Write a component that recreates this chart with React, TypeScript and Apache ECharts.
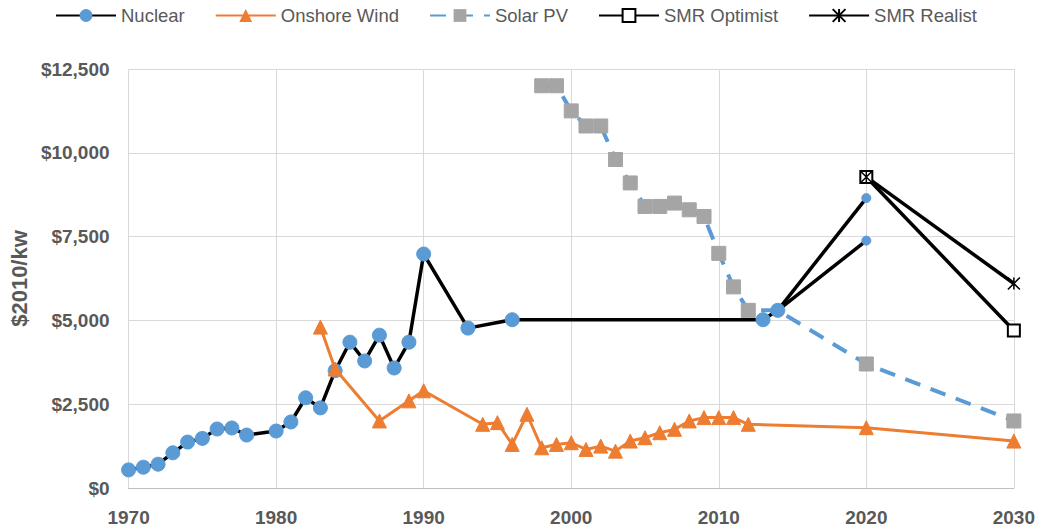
import React, { useEffect, useRef } from "react";
import * as echarts from "echarts";

const nuclearYears = [1970, 1971, 1972, 1973, 1974, 1975, 1976, 1977, 1978, 1980, 1981, 1982, 1983, 1984, 1985, 1986, 1987, 1988, 1989, 1990, 1993, 1996, 2013, 2014];
const nuclearValues = [540, 620, 710, 1050, 1370, 1480, 1760, 1790, 1580, 1700, 1970, 2690, 2390, 3500, 4350, 3790, 4560, 3580, 4350, 6980, 4770, 5020, 5020, 5300];

const nuclearProjA = [[2014, 5300], [2020, 8650]];
const nuclearProjB = [[2014, 5300], [2020, 7380]];

const windYears = [1983, 1984, 1987, 1989, 1990, 1994, 1995, 1996, 1997, 1998, 1999, 2000, 2001, 2002, 2003, 2004, 2005, 2006, 2007, 2008, 2009, 2010, 2011, 2012, 2020, 2030];
const windValues = [4800, 3550, 2000, 2600, 2900, 1900, 1950, 1300, 2200, 1200, 1300, 1350, 1150, 1250, 1100, 1400, 1500, 1650, 1750, 2000, 2100, 2100, 2100, 1900, 1800, 1400];

const solarYears = [1998, 1999, 2000, 2001, 2002, 2003, 2004, 2005, 2006, 2007, 2008, 2009, 2010, 2011, 2012, 2014, 2020, 2030];
const solarValues = [12000, 12000, 11250, 10800, 10800, 9800, 9100, 8400, 8400, 8500, 8300, 8100, 7000, 6000, 5300, 5300, 3700, 2000];
const solarHiddenYears = [2014];

const smrOptimist = [[2020, 9280], [2030, 4700]];
const smrRealist = [[2020, 9280], [2030, 6100]];

const xTicks = { min: 1970, max: 2030, interval: 10 };
const yTicks = { min: 0, max: 12500, interval: 2500 };

const BLUE = "#5B9BD5";
const ORANGE = "#ED7D31";
const GRAY = "#A5A5A5";
const TEXT = "#595959";
const FONT = "Liberation Sans, Arial, sans-serif";
const STAR = "path://M0,0L10,10M10,0L0,10M5,0L5,10";

export default function App() {
  const ref = useRef<HTMLDivElement>(null);
  useEffect(() => {
    if (!ref.current) return;
    const chart = echarts.init(ref.current, null, { renderer: "svg" });
    const option: any = {
      animation: false,
      backgroundColor: "#fff",
      textStyle: { fontFamily: FONT },
      legend: {
        data: ["Nuclear", "Onshore Wind", "Solar PV", "SMR Optimist", "SMR Realist"],
        left: 50,
        top: 1,
        itemWidth: 60,
        itemHeight: 16,
        itemGap: 30,
        textStyle: { color: TEXT, fontSize: 18.5, fontFamily: FONT },
      },
      grid: { left: 127, right: 23, top: 69, bottom: 40, containLabel: false },
      xAxis: {
        type: "value",
        min: xTicks.min,
        max: xTicks.max,
        interval: xTicks.interval,
        axisLine: { show: true, lineStyle: { color: "#BFBFBF", width: 1 } },
        axisTick: { show: false },
        splitLine: { show: true, lineStyle: { color: "#D9D9D9", width: 1 } },
        axisLabel: {
          color: TEXT,
          fontSize: 19,
          fontWeight: "bold",
          fontFamily: FONT,
          margin: 20,
          formatter: (v: number) => String(v),
        },
      },
      yAxis: {
        type: "value",
        min: yTicks.min,
        max: yTicks.max,
        interval: yTicks.interval,
        name: "$2010/kw",
        nameLocation: "middle",
        nameGap: 95,
        nameRotate: 90,
        nameTextStyle: { color: TEXT, fontSize: 22, fontWeight: "bold", fontFamily: FONT },
        axisLine: { show: false },
        axisTick: { show: false },
        splitLine: { show: true, lineStyle: { color: "#D9D9D9", width: 1 } },
        axisLabel: {
          color: TEXT,
          fontSize: 19,
          fontWeight: "bold",
          fontFamily: FONT,
          margin: 19,
          formatter: (v: number) => "$" + v.toLocaleString("en-US"),
        },
      },
      series: [
        {
          name: "Solar PV",
          type: "line",
          z: 2,
          data: solarYears.map((y, i) =>
            solarHiddenYears.includes(y)
              ? { value: [y, solarValues[i]], symbol: "none" }
              : [y, solarValues[i]]
          ),
          symbol: "rect",
          symbolSize: 14,
          lineStyle: { color: BLUE, width: 4, type: [16, 11] },
          itemStyle: { color: GRAY, borderColor: GRAY },
        },
        {
          name: "Nuclear",
          type: "line",
          z: 3,
          data: nuclearYears.map((y, i) => [y, nuclearValues[i]]),
          symbol: "circle",
          symbolSize: 14,
          lineStyle: { color: "#000", width: 3.5 },
          itemStyle: { color: BLUE, borderColor: BLUE },
        },
        {
          name: "Nuclear projection A",
          type: "line",
          z: 3,
          data: nuclearProjA.map((p, i) => (i === 0 ? { value: p, symbol: "none" } : p)),
          symbol: "circle",
          symbolSize: 9,
          lineStyle: { color: "#000", width: 3.5 },
          itemStyle: { color: BLUE, borderColor: BLUE },
        },
        {
          name: "Nuclear projection B",
          type: "line",
          z: 3,
          data: nuclearProjB.map((p, i) => (i === 0 ? { value: p, symbol: "none" } : p)),
          symbol: "circle",
          symbolSize: 9,
          lineStyle: { color: "#000", width: 3.5 },
          itemStyle: { color: BLUE, borderColor: BLUE },
        },
        {
          name: "Onshore Wind",
          type: "line",
          z: 4,
          data: windYears.map((y, i) => [y, windValues[i]]),
          symbol: "triangle",
          symbolSize: 14,
          lineStyle: { color: ORANGE, width: 3 },
          itemStyle: { color: ORANGE, borderColor: ORANGE },
        },
        {
          name: "SMR Optimist",
          type: "line",
          z: 5,
          data: smrOptimist,
          symbol: "rect",
          symbolSize: 12,
          lineStyle: { color: "#000", width: 3.5 },
          itemStyle: { color: "#fff", borderColor: "#000", borderWidth: 2 },
        },
        {
          name: "SMR Realist",
          type: "line",
          z: 5,
          data: smrRealist,
          symbol: STAR,
          symbolSize: 12,
          lineStyle: { color: "#000", width: 3.5 },
          itemStyle: { color: "#000", borderColor: "#000", borderWidth: 1.5 },
        },
      ],
    };
    chart.setOption(option);
    return () => chart.dispose();
  }, []);
  return (
    <div
      ref={ref}
      style={{ position: "fixed", left: 0, top: 0, width: 1038, height: 528, background: "#fff" }}
    />
  );
}
